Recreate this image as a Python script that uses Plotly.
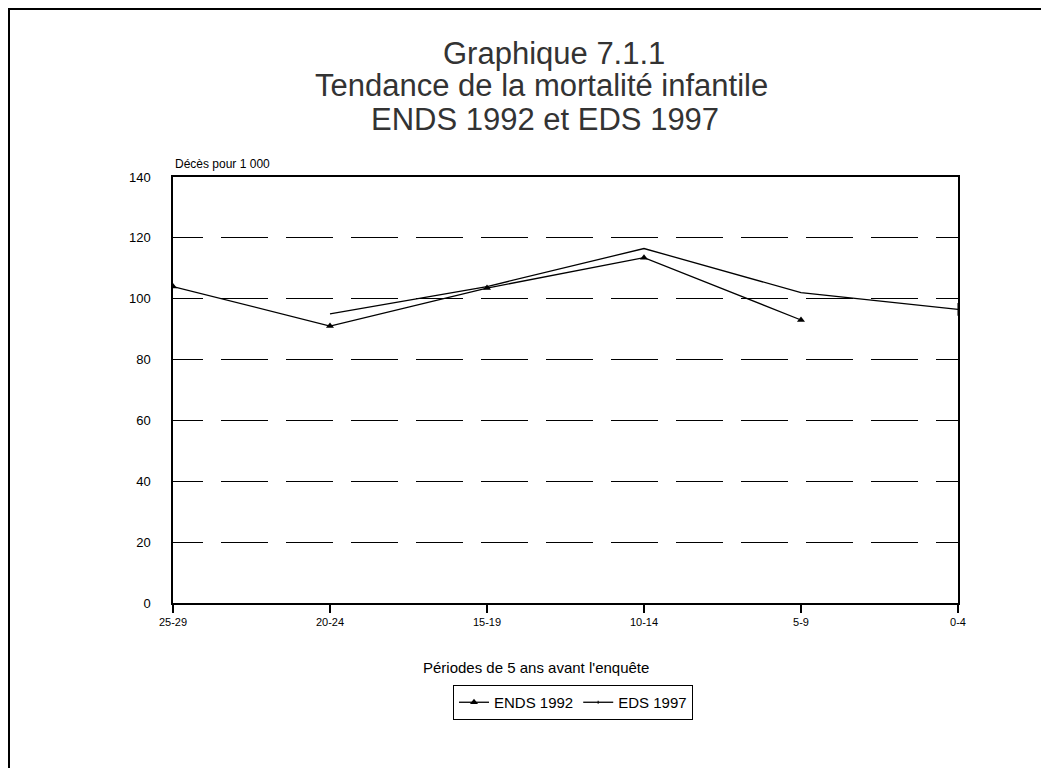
import plotly.graph_objects as go

periods = ["25-29", "20-24", "15-19", "10-14", "5-9", "0-4"]
ends_1992_x = [0, 1, 2, 3, 4]
ends_1992 = [104, 91, 103.5, 113.5, 93]
eds_1997_x = [1, 2, 3, 4, 5]
eds_1997 = [95, 104, 116.5, 102, 96.5]
y_ticks = [0, 20, 40, 60, 80, 100, 120, 140]
title_lines = ["Graphique 7.1.1", "Tendance de la mortalité infantile", "ENDS 1992 et EDS 1997"]

FONT = "Liberation Sans, Arial, sans-serif"
OFF = 8  # default page body margin

fig = go.Figure()
fig.add_trace(go.Scatter(
    x=ends_1992_x, y=ends_1992, name="ENDS 1992", mode="lines+markers",
    line=dict(color="black", width=1.3),
    marker=dict(symbol="triangle-up", size=7, color="black"),
))
fig.add_trace(go.Scatter(
    x=eds_1997_x, y=eds_1997, name="EDS 1997", mode="lines+markers",
    line=dict(color="black", width=1.3),
    marker=dict(symbol="line-ns", size=[0, 0, 0, 0, 9],
                line=dict(color="black", width=1.5), color="black"),
))

# target pixel positions in the window
L, R, T, B = 173, 958, 177, 603
W, H = 1049 - OFF, 768 - OFF
pw, ph = R - L, B - T

def px(x):
    return (x - L) / pw

def py(y):
    return (B - y) / ph

dash = "30px,18px," + ",".join(["47px,18px"] * 13)

title_pos = [(554, 53), (541, 86), (545, 120)]
annotations = [
    dict(text=t, x=px(cx), y=py(cy), xref="paper", yref="paper",
         xanchor="center", yanchor="middle", showarrow=False,
         font=dict(size=31, color="#333333", family=FONT))
    for t, (cx, cy) in zip(title_lines, title_pos)
]
annotations += [
    dict(text="Décès pour 1 000", x=0, y=py(164), xref="paper", yref="paper",
         xanchor="left", yanchor="middle", showarrow=False,
         font=dict(size=12, family=FONT)),
    dict(text="Périodes de 5 ans avant l'enquête", x=px(536), y=py(667),
         xref="paper", yref="paper", xanchor="center", yanchor="middle",
         showarrow=False, font=dict(size=15, family=FONT)),
]

fig.update_layout(
    width=W, height=H,
    margin=dict(l=L - OFF, r=W - (R - OFF), t=T - OFF, b=H - (B - OFF)),
    paper_bgcolor="white", plot_bgcolor="white",
    font=dict(family=FONT, color="black", size=13),
    showlegend=True,
    legend=dict(
        orientation="h", x=px(573), y=py(685), xanchor="center", yanchor="top",
        bordercolor="black", borderwidth=1, bgcolor="white",
        font=dict(size=15, family=FONT), itemwidth=30,
        tracegroupgap=0,
    ),
    xaxis=dict(
        range=[0, 5], tickvals=list(range(len(periods))), ticktext=periods,
        showgrid=False, zeroline=False, showline=True, linecolor="black",
        linewidth=1.5, mirror=True, ticks="outside", ticklen=8,
        tickcolor="black", tickwidth=1.5,
        tickfont=dict(size=11, family="Liberation Sans Narrow, Arial Narrow, sans-serif"),
    ),
    yaxis=dict(
        range=[0, 140], tickvals=y_ticks, showgrid=True, gridcolor="black",
        gridwidth=1.3, griddash=dash, zeroline=False, showline=True,
        linecolor="black", linewidth=1.5, mirror=True, ticks="",
        ticklabelstandoff=18, tickfont=dict(size=13),
    ),
    annotations=annotations,
    shapes=[
        dict(type="rect", xref="paper", yref="paper",
             x0=px(8.5), x1=px(1100), y0=py(8.5), y1=py(820),
             line=dict(color="black", width=3), fillcolor="rgba(0,0,0,0)",
             layer="above"),
    ],
)

fig.write_html("out.html")
